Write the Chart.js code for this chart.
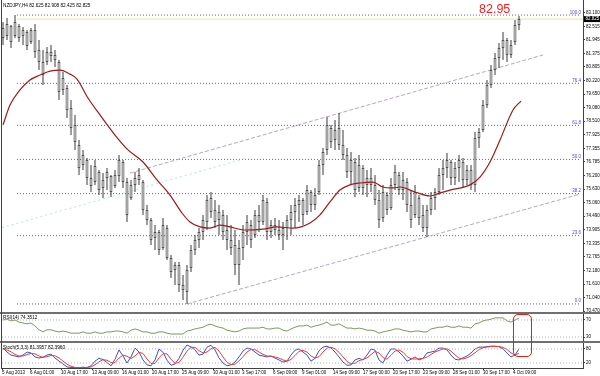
<!DOCTYPE html>
<html>
<head>
<meta charset="utf-8">
<script src="https://cdn.jsdelivr.net/npm/chart.js"></script>
<style>
html, body { margin: 0; padding: 0; background: #fff; }
#wrap { position: relative; width: 600px; height: 376px; overflow: hidden; background: #fff; font-family: "Liberation Sans", Arial, sans-serif; }
canvas { position: absolute; left: 0; }
.sep { position: absolute; left: 0; width: 600px; height: 2px; background: #707070; }
.tiny { position: absolute; white-space: nowrap; color: #000; font-size: 9.4px; line-height: 1; transform: scale(0.5); transform-origin: 0 0; }
</style>
</head>
<body>
<div id="wrap">
  <canvas id="cMain" width="600" height="312" style="top:0"></canvas>
  <canvas id="cRsi" width="600" height="27" style="top:314px"></canvas>
  <canvas id="cSto" width="600" height="33" style="top:343px"></canvas>
  <div class="sep" style="top:312px"></div>
  <div class="sep" style="top:341px"></div>
  <div style="position:absolute;left:1px;top:0;width:1px;height:369px;background:#404040"></div>
  <div class="tiny" style="left:3px;top:3px">NZDJPY,H4 82.625 82.908 82.425 82.825</div>
  <div style="position:absolute;left:479px;top:3px;font-size:12.5px;line-height:1;color:#ff1a1a">82.95</div>
  <div class="tiny" style="left:3px;top:315px">RSI(14) 74.3512</div>
  <div class="tiny" style="left:3px;top:344.5px">Stoch(5,3,3) 81.3957 82.3960</div>
  <div style="position:absolute;left:513px;top:314px;width:17px;height:41px;border:1.5px solid #e02020;border-radius:5px"></div>
</div>
<script>
// H4 bars, one per index
var openP = [82.45,82.11,82.54,82.11,82.54,82.11,82.28,81.86,82.37,81.52,81.01,81.01,81.44,81.31,81.01,79.83,79.91,79.07,78.35,77.50,
  76.65,76.86,76.10,75.93,76.36,75.68,76.10,76.19,75.76,76.19,76.78,75.93,75.25,75.81,76.23,75.93,74.75,74.32,73.56,73.82,
  73.14,73.98,72.71,72.21,72.42,71.57,71.28,72.29,73.05,73.48,73.82,74.24,75.25,74.75,74.32,74.54,73.90,73.48,73.26,72.42,
  73.14,73.82,74.11,73.69,74.54,74.24,75.09,73.82,74.11,73.90,73.69,73.98,74.32,74.66,74.96,75.17,74.66,75.51,74.96,75.51,
  76.65,77.29,78.22,77.71,78.22,77.50,77.08,76.36,76.78,75.68,76.53,75.81,76.10,75.81,75.17,74.41,75.38,74.83,75.81,76.23,
  75.59,75.93,74.96,74.54,75.25,74.54,73.98,74.75,75.25,75.51,76.23,76.53,76.78,76.10,76.53,76.78,76.02,76.44,75.81,77.80,
  78.13,79.19,80.04,80.67,81.18,81.61,81.94,81.31,81.86,82.58];
var highP = [82.71,82.88,82.58,83.00,82.62,82.49,82.37,82.45,82.62,81.94,81.52,81.65,81.73,81.52,81.10,80.59,80.04,79.40,78.77,77.71,
  77.29,76.95,76.65,76.86,76.44,76.31,76.53,76.23,76.44,77.08,76.86,76.10,76.02,76.36,76.53,76.02,74.96,74.41,74.11,73.90,
  74.41,74.11,72.84,72.55,72.55,71.99,72.42,73.26,73.69,73.98,74.54,75.38,75.51,75.17,74.96,74.75,74.54,74.11,73.90,73.48,
  74.11,74.54,74.32,74.75,74.96,75.38,75.25,74.32,74.41,74.32,74.24,74.54,74.96,75.25,75.38,75.25,75.81,75.59,75.68,76.86,
  77.37,78.68,78.35,78.56,78.85,78.13,77.37,77.20,76.95,77.08,76.65,76.44,76.53,76.23,75.59,75.81,75.51,76.10,76.65,76.36,
  76.36,76.10,75.59,75.81,75.38,74.96,74.96,75.51,75.68,76.53,76.86,77.16,76.86,76.78,77.08,76.95,76.65,76.65,78.05,78.22,
  79.40,80.25,80.89,81.39,81.82,82.28,82.03,81.94,82.79,82.96];
var lowP = [81.73,81.94,81.61,82.03,81.86,81.73,81.52,81.78,81.18,80.67,80.04,80.89,81.01,80.80,79.40,79.62,78.64,77.92,77.29,76.23,
  76.44,75.81,75.51,75.81,75.38,75.25,75.59,75.30,75.68,75.93,75.68,74.24,75.17,75.51,75.81,74.54,74.11,73.26,73.05,72.84,
  73.05,72.63,71.87,71.57,71.28,70.94,70.77,72.12,72.84,73.14,73.48,73.90,74.41,73.98,73.69,73.48,73.05,72.84,71.99,71.57,
  72.63,73.26,73.14,73.56,73.82,74.11,73.48,73.56,73.69,73.48,73.05,73.48,73.69,73.98,74.24,74.11,74.54,74.66,74.75,75.38,
  76.23,77.08,77.37,77.29,77.29,76.86,76.10,75.81,75.30,75.51,75.38,75.30,75.51,74.96,73.98,74.24,74.54,74.75,75.59,75.38,
  75.17,74.66,73.98,74.41,74.11,73.82,73.60,74.54,74.75,75.38,75.59,76.10,75.81,75.81,75.93,75.68,75.81,75.59,75.51,77.37,
  78.05,79.07,79.91,80.46,80.76,81.10,81.01,81.18,81.73,82.37];
var closeP = [82.03,82.62,81.86,82.71,82.03,82.37,81.69,82.37,81.44,81.01,80.46,81.44,81.27,81.10,79.74,80.34,78.98,78.22,77.63,76.53,
  77.08,76.10,75.76,76.61,75.59,76.02,76.36,75.51,76.23,76.86,75.93,74.54,75.81,76.10,76.02,74.75,74.32,73.48,73.82,73.05,
  74.11,72.71,72.12,72.42,71.57,71.36,72.21,73.05,73.48,73.82,74.32,75.17,74.66,74.24,74.66,73.82,73.48,73.14,72.42,73.14,
  73.82,74.24,73.48,74.54,74.24,75.17,73.82,74.11,73.90,73.69,73.98,74.32,74.66,74.96,75.17,74.54,75.59,74.96,75.38,76.65,
  77.20,78.35,77.63,78.13,77.50,77.08,76.36,76.86,75.59,76.65,75.68,76.10,75.81,75.17,74.32,75.51,74.75,75.81,76.36,75.59,
  76.02,74.96,74.32,75.51,74.41,73.98,74.75,75.25,75.51,76.23,76.53,76.86,76.10,76.53,76.86,76.02,76.44,75.81,77.80,78.05,
  79.19,80.04,80.67,81.18,81.61,81.94,81.31,81.73,82.58,82.83];

// moving average, read at these bar positions
var maIdx = [0,1.75,4.25,6.75,9.25,11.75,14.25,16.75,18.5,21.25,24.25,28,31.25,35,38.5,41.75,44.75,46.75,49.25,51.75,
  54.25,56.75,60.5,65,68.5,72.5,76.75,79.25,81.75,84.25,86.75,89.25,92.5,95,97.5,99.25,103,106.75,109.25,111.75,
  116.75,119.25,121.75,124.25,127.5,129.5];
var maVal = [78.35,79.19,79.83,80.25,80.46,80.63,80.67,80.50,80.29,79.49,78.77,77.92,77.29,76.78,76.02,75.38,74.62,74.24,74.03,73.98,
  74.11,74.03,73.90,73.94,74.03,73.98,74.20,74.54,75.09,75.59,75.81,75.89,75.93,75.72,75.68,75.72,75.51,75.34,75.47,75.59,
  75.81,76.14,76.78,77.71,78.98,79.36];

var rsiVal = [70,72,68,70,65,63,61,63,56,47,42,47,47,44,42,44,42,39,39,39,
  42,39,39,42,39,39,42,42,44,44,42,39,46,49,46,42,42,39,39,42,
  42,39,37,37,37,37,44,46,49,51,53,58,60,56,53,51,46,44,42,44,
  49,51,51,51,51,53,49,49,51,51,46,44,49,53,56,56,58,53,56,58,
  61,65,58,58,61,56,51,51,49,51,49,46,46,44,39,42,44,46,49,49,
  46,44,42,44,44,42,42,49,51,53,53,56,53,53,56,53,53,51,61,63,
  68,70,72,75,75,75,68,65,70,74.35];
var stochMain = [84,67,54,50,46,54,67,63,46,41,45,54,58,41,28,16,3,1,0,0,
  2,0,8,28,40,35,22,8,36,76,50,20,46,84,67,33,12,8,33,80,
  66,32,10,16,40,75,97,89,76,54,58,88,96,76,42,20,8,12,24,46,
  71,84,80,67,54,50,46,50,41,33,24,28,54,75,80,67,54,28,40,72,
  88,92,84,67,46,24,10,12,33,40,33,54,80,75,33,20,54,80,80,67,
  50,28,36,46,33,40,63,67,71,84,84,76,54,36,33,42,50,63,80,88,
  88,90,92,92,90,80,63,46,54,81.4];
var stochSig = [80,76,68,57,50,50,56,61,59,50,44,47,52,51,42,28,15,6,1,0,
  1,1,3,12,25,34,32,22,22,41,54,49,39,50,66,61,37,18,18,42,
  60,59,36,19,22,45,71,87,87,73,63,67,81,87,71,46,23,13,15,29,
  47,67,78,77,67,57,50,49,46,41,33,28,35,52,70,74,67,50,41,47,
  67,84,88,81,66,46,27,16,19,30,35,42,56,70,63,43,36,53,71,76,
  66,48,38,37,38,40,45,57,67,74,80,81,71,55,41,37,42,52,64,77,
  85,89,90,91,91,87,78,63,54,62];

var fibPrices = [83.00, 80.11, 78.33, 76.89, 75.44, 73.66, 70.77];
var fibLabels = ["100.0", "76.4", "61.8", "50.0", "38.2", "23.6", "0.0"];
var upperChannel = [[31.75, 76.31], [135, 81.31]];
var lowerChannel = [[46, 70.77], [144.25, 75.42]];
var faintLine = [[-0.25, 74.00], [61, 76.95]];
var bidPrice = 82.83;

var priceTicks = [83.100,82.515,81.945,81.375,80.805,80.220,79.650,79.080,78.510,77.925,77.355,76.785,
  76.200,75.630,75.060,74.490,73.905,73.335,72.765,72.180,71.610,71.040,70.470];
var timeLabels = ["5 Aug 2013","6 Aug 01:00","10 Aug 17:00","13 Aug 09:00","16 Aug 01:00","20 Aug 17:00",
  "25 Aug 09:00","30 Aug 01:00","3 Sep 17:00","6 Sep 09:00","9 Sep 01:00","14 Sep 09:00","17 Sep 00:00",
  "20 Sep 17:00","23 Sep 09:00","28 Sep 01:00","30 Sep 17:00","4 Oct 09:00"];
var timeTicks = [-0.25,6.75,14.5,22.25,29.75,37.25,44.75,52.5,59.75,67.5,74.75,82.5,90,97.5,105,112.5,120,127.5];

var X_MIN = -0.25, X_MAX = 145, FIB_START = 3.5, FIB_END = 144.25;
var tinyFont = { size: 4.5, family: "Liberation Sans" };

function xHidden() {
  return { type: "linear", min: X_MIN, max: X_MAX, offset: false, display: false, grid: { display: false, offset: false } };
}
function rightAxis(min, max, ticks, fmt) {
  return {
    position: "right", min: min, max: max,
    afterBuildTicks: function(s) { s.ticks = ticks.map(function(v) { return { value: v }; }); },
    afterFit: function(s) { s.width = 17; s.paddingTop = 0; s.paddingBottom = 0; },
    ticks: { autoSkip: false, font: tinyFont, color: "#000", padding: 1, callback: fmt },
    grid: { drawOnChartArea: false, drawTicks: true, tickLength: 2, color: "#404040" },
    border: { display: true, color: "#404040" }
  };
}
function seg(pts) { return pts.map(function(p) { return { x: p[0], y: p[1] }; }); }
function hline(y, x0, x1) { return [{ x: x0, y: y }, { x: x1, y: y }]; }

var wickData = [], bodyData = [];
for (var i = 0; i < openP.length; i++) {
  wickData.push({ x: i, y: [lowP[i], highP[i]] });
  bodyData.push({ x: i, y: [Math.min(openP[i], closeP[i]), Math.max(openP[i], closeP[i])] });
}

var mainDs = [];
for (var k = 0; k < fibPrices.length; k++) {
  mainDs.push({ type: "line", data: hline(fibPrices[k], FIB_START, FIB_END), borderColor: "#5a5ad2", borderWidth: 1,
    borderDash: [1, 2], pointRadius: 0, order: 10 });
}
mainDs.push({ type: "line", data: hline(bidPrice, FIB_START, X_MAX), borderColor: "#e4ea98", borderWidth: 1, pointRadius: 0, order: 11 });
mainDs.push({ type: "line", data: seg(upperChannel), borderColor: "#bba3c6", borderWidth: 1, borderDash: [4, 2], pointRadius: 0, order: 9 });
mainDs.push({ type: "line", data: seg(lowerChannel), borderColor: "#bba3c6", borderWidth: 1, borderDash: [4, 2], pointRadius: 0, order: 9 });
mainDs.push({ type: "line", data: seg(faintLine), borderColor: "rgba(150,215,215,0.7)", borderWidth: 1, borderDash: [2, 3], pointRadius: 0, order: 9 });
mainDs.push({ type: "bar", data: wickData, backgroundColor: "#3a3a3a", barThickness: 1, grouped: false, inflateAmount: 0, order: 5 });
mainDs.push({ type: "bar", data: bodyData, backgroundColor: "#cfcfcf", borderColor: "#505050", borderWidth: 1, borderSkipped: false,
  barThickness: 3, grouped: false, inflateAmount: 0, order: 4 });
mainDs.push({ type: "line", data: maIdx.map(function(x, j) { return { x: x, y: maVal[j] }; }), borderColor: "#9e1a1a",
  borderWidth: 1.2, pointRadius: 0, cubicInterpolationMode: "monotone", order: 1 });

var mainOverlay = {
  id: "mainOverlay",
  afterDraw: function(chart) {
    var ctx = chart.ctx, xs = chart.scales.x, ys = chart.scales.y;
    ctx.save();
    ctx.font = "4.5px 'Liberation Sans'";
    ctx.fillStyle = "#4b4bc8";
    ctx.textAlign = "right";
    ctx.textBaseline = "bottom";
    for (var k = 0; k < fibPrices.length; k++) {
      ctx.fillText(fibLabels[k], xs.getPixelForValue(FIB_END) + 1, ys.getPixelForValue(fibPrices[k]) - 0.5);
    }
    var py = ys.getPixelForValue(closeP[closeP.length - 1]);
    ctx.fillStyle = "#000";
    ctx.fillRect(584, py - 3, 16, 6);
    ctx.fillStyle = "#fff";
    ctx.textAlign = "left";
    ctx.textBaseline = "middle";
    ctx.fillText("82.825", 585.5, py);
    ctx.restore();
  }
};

var base = { responsive: false, animation: false, events: [], layout: { padding: { left: 2, right: 0, top: 0, bottom: 0 } },
  plugins: { legend: { display: false }, tooltip: { enabled: false } } };

new Chart(document.getElementById("cMain"), {
  type: "line",
  data: { datasets: mainDs },
  options: Object.assign({}, base, {
    scales: { x: xHidden(), y: rightAxis(70.428, 83.638, priceTicks, function(v) { return v.toFixed(3); }) }
  }),
  plugins: [mainOverlay]
});

new Chart(document.getElementById("cRsi"), {
  type: "line",
  data: { datasets: [
    { data: hline(70, X_MIN, X_MAX), borderColor: "#b4b4b4", borderWidth: 1, borderDash: [1, 2], pointRadius: 0 },
    { data: hline(30, X_MIN, X_MAX), borderColor: "#b4b4b4", borderWidth: 1, borderDash: [1, 2], pointRadius: 0 },
    { data: rsiVal.map(function(v, j) { return { x: j, y: v }; }), borderColor: "#7b9a5f", borderWidth: 1, pointRadius: 0 }
  ] },
  options: Object.assign({}, base, {
    scales: { x: xHidden(), y: rightAxis(20.6, 84.1, [70, 30], function(v) { return String(v); }) }
  })
});

var stoX = {
  type: "linear", min: X_MIN, max: X_MAX, offset: false, position: "bottom",
  afterBuildTicks: function(s) { s.ticks = timeTicks.map(function(v) { return { value: v }; }); },
  afterFit: function(s) { s.height = 8; s.paddingLeft = 0; s.paddingRight = 0; },
  ticks: { autoSkip: false, maxRotation: 0, minRotation: 0, align: "start", padding: 0, font: tinyFont, color: "#000",
    callback: function(v, j) { return timeLabels[j]; } },
  grid: { drawOnChartArea: false, drawTicks: true, tickLength: 2, color: "#404040", offset: false },
  border: { display: true, color: "#404040" }
};

new Chart(document.getElementById("cSto"), {
  type: "line",
  data: { datasets: [
    { data: hline(80, X_MIN, X_MAX), borderColor: "#b4b4b4", borderWidth: 1, borderDash: [1, 2], pointRadius: 0 },
    { data: hline(20, X_MIN, X_MAX), borderColor: "#b4b4b4", borderWidth: 1, borderDash: [1, 2], pointRadius: 0 },
    { data: stochSig.map(function(v, j) { return { x: j, y: v }; }), borderColor: "#e8403a", borderWidth: 1, pointRadius: 0 },
    { data: stochMain.map(function(v, j) { return { x: j, y: v }; }), borderColor: "#3b4fd0", borderWidth: 1, pointRadius: 0 }
  ] },
  options: Object.assign({}, base, {
    scales: { x: stoX, y: rightAxis(-1.43, 105.7, [80, 20], function(v) { return String(v); }) }
  })
});
</script>
</body>
</html>
